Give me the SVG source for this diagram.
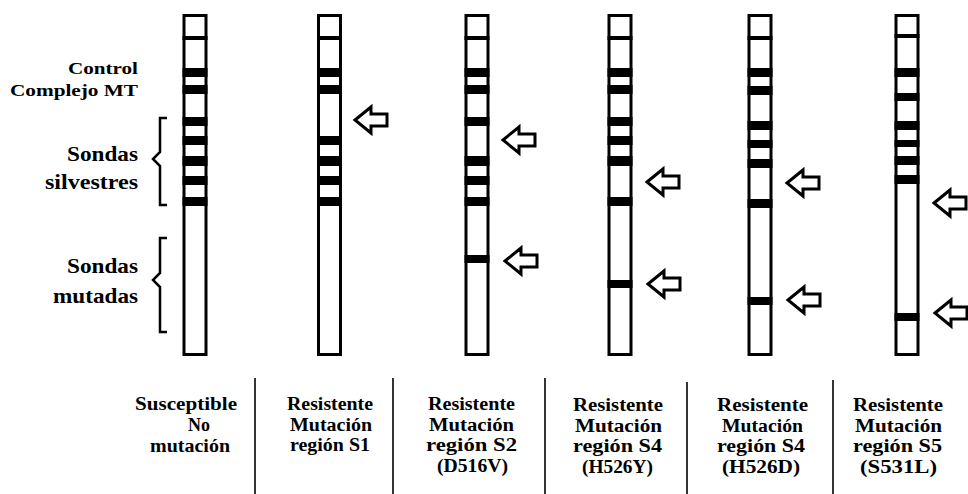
<svg xmlns="http://www.w3.org/2000/svg" xmlns:xlink="http://www.w3.org/1999/xlink" width="968" height="494" viewBox="0 0 968 494">
  <style>
    .body { fill: #fff; stroke: #000; stroke-width: 3; }
    .band { fill: #000; }
    .arrow { fill: #fff; stroke: #000; stroke-width: 3; stroke-linejoin: miter; }
    .brace { fill: none; stroke: #000; stroke-width: 2.5; stroke-linejoin: miter; }
    .sep { stroke: #000; stroke-width: 1.6; }
    .lbl { font-family: 'Liberation Serif', 'DejaVu Serif', serif; font-weight: bold; fill: #000; }
    .small { font-size: 16px; }
    .big { font-size: 22px; }
    .cap { font-size: 18px; }
  </style>
  <defs>
    <!-- hollow block arrow pointing left, tip at origin -->
    <path id="arrow" class="arrow" d="M0,0 L16,-13 L16,-6 L32,-6 L32,6 L16,6 L16,13 Z"/>
  </defs>
  <rect width="968" height="494" fill="#fff"/>

  <!-- left-hand legend -->
  <g id="legend" class="lbl">
    <text class="small" x="68" y="74" textLength="70" lengthAdjust="spacingAndGlyphs">Control</text>
    <text class="small" x="10" y="96" textLength="128" lengthAdjust="spacingAndGlyphs">Complejo MT</text>
    <text class="big" x="67" y="161" textLength="71" lengthAdjust="spacingAndGlyphs">Sondas</text>
    <text class="big" x="45" y="189" textLength="93" lengthAdjust="spacingAndGlyphs">silvestres</text>
    <text class="big" x="67" y="273" textLength="71" lengthAdjust="spacingAndGlyphs">Sondas</text>
    <text class="big" x="53" y="303" textLength="85" lengthAdjust="spacingAndGlyphs">mutadas</text>
  </g>
  <g id="brackets">
    <path class="brace" d="M167,118 L160,118 L160,152 L153,159 L160,166 L160,205 L167,205"/>
    <path class="brace" d="M167,238 L160,238 L160,273 L153,280 L160,287 L160,332 L167,332"/>
  </g>

  <!-- strip 1: susceptible, all wild-type bands -->
  <g id="strip-susceptible" transform="translate(182.5,0)">
    <rect class="body" x="1.5" y="15.5" width="22" height="339"/>
    <rect class="band" x="0" y="36" width="25" height="4"/>
    <rect class="band" x="0" y="68" width="25" height="9"/>
    <rect class="band" x="0" y="85" width="25" height="9"/>
    <rect class="band" x="0" y="117" width="25" height="9"/>
    <rect class="band" x="0" y="136" width="25" height="9"/>
    <rect class="band" x="0" y="156" width="25" height="10"/>
    <rect class="band" x="0" y="176" width="25" height="9"/>
    <rect class="band" x="0" y="197" width="25" height="9"/>
  </g>

  <!-- strip 2: S1 mutation -->
  <g id="strip-s1" transform="translate(317,0)">
    <rect class="body" x="1.5" y="15.5" width="22" height="339"/>
    <rect class="band" x="0" y="36" width="25" height="4"/>
    <rect class="band" x="0" y="68" width="25" height="9"/>
    <rect class="band" x="0" y="85" width="25" height="9"/>
    <rect class="band" x="0" y="136" width="25" height="9"/>
    <rect class="band" x="0" y="156" width="25" height="10"/>
    <rect class="band" x="0" y="176" width="25" height="9"/>
    <rect class="band" x="0" y="197" width="25" height="9"/>
  </g>

  <!-- strip 3: S2 mutation (D516V) -->
  <g id="strip-s2" transform="translate(464.5,0)">
    <rect class="body" x="1.5" y="15.5" width="22" height="339"/>
    <rect class="band" x="0" y="36" width="25" height="4"/>
    <rect class="band" x="0" y="68" width="25" height="9"/>
    <rect class="band" x="0" y="85" width="25" height="9"/>
    <rect class="band" x="0" y="117" width="25" height="9"/>
    <rect class="band" x="0" y="156" width="25" height="10"/>
    <rect class="band" x="0" y="176" width="25" height="9"/>
    <rect class="band" x="0" y="197" width="25" height="9"/>
    <rect class="band" x="0" y="255" width="25" height="8"/>
  </g>

  <!-- strip 4: S4 mutation (H526Y) -->
  <g id="strip-s4-y" transform="translate(607.5,0)">
    <rect class="body" x="1.5" y="15.5" width="22" height="339"/>
    <rect class="band" x="0" y="36" width="25" height="4"/>
    <rect class="band" x="0" y="68" width="25" height="9"/>
    <rect class="band" x="0" y="85" width="25" height="9"/>
    <rect class="band" x="0" y="117" width="25" height="9"/>
    <rect class="band" x="0" y="136" width="25" height="9"/>
    <rect class="band" x="0" y="156" width="25" height="10"/>
    <rect class="band" x="0" y="197" width="25" height="9"/>
    <rect class="band" x="0" y="280" width="25" height="8"/>
  </g>

  <!-- strip 5: S4 mutation (H526D) -->
  <g id="strip-s4-d" transform="translate(747.5,0)">
    <rect class="body" x="1.5" y="15.5" width="22" height="339"/>
    <rect class="band" x="0" y="36" width="25" height="4"/>
    <rect class="band" x="0" y="68" width="25" height="9"/>
    <rect class="band" x="0" y="86" width="25" height="9"/>
    <rect class="band" x="0" y="121" width="25" height="9"/>
    <rect class="band" x="0" y="140" width="25" height="8"/>
    <rect class="band" x="0" y="159" width="25" height="9"/>
    <rect class="band" x="0" y="199" width="25" height="9"/>
    <rect class="band" x="0" y="297" width="25" height="8"/>
  </g>

  <!-- strip 6: S5 mutation (S531L) -->
  <g id="strip-s5" transform="translate(894.5,0)">
    <rect class="body" x="1.5" y="15.5" width="22" height="339"/>
    <rect class="band" x="0" y="34" width="25" height="4"/>
    <rect class="band" x="0" y="68" width="25" height="9"/>
    <rect class="band" x="0" y="93" width="25" height="8"/>
    <rect class="band" x="0" y="121" width="25" height="9"/>
    <rect class="band" x="0" y="140" width="25" height="7"/>
    <rect class="band" x="0" y="156" width="25" height="9"/>
    <rect class="band" x="0" y="175" width="25" height="9"/>
    <rect class="band" x="0" y="313" width="25" height="8"/>
  </g>

  <!-- arrows marking missing / mutated bands -->
  <g id="arrows">
    <use xlink:href="#arrow" x="355" y="120"/>
    <use xlink:href="#arrow" x="503" y="140"/>
    <use xlink:href="#arrow" x="505" y="261"/>
    <use xlink:href="#arrow" x="647" y="182"/>
    <use xlink:href="#arrow" x="648" y="284"/>
    <use xlink:href="#arrow" x="787" y="183"/>
    <use xlink:href="#arrow" x="788" y="300"/>
    <use xlink:href="#arrow" x="934" y="203"/>
    <use xlink:href="#arrow" x="935" y="313"/>
  </g>

  <!-- column separators -->
  <g id="separators">
    <line class="sep" x1="255" y1="378" x2="255" y2="494"/>
    <line class="sep" x1="393" y1="378" x2="393" y2="494"/>
    <line class="sep" x1="545" y1="378" x2="545" y2="494"/>
    <line class="sep" x1="687" y1="382" x2="687" y2="494"/>
    <line class="sep" x1="833" y1="380" x2="833" y2="494"/>
  </g>

  <!-- captions -->
  <g id="captions" class="lbl cap">
    <text x="135" y="410" textLength="102" lengthAdjust="spacingAndGlyphs">Susceptible</text>
    <text x="188" y="431" textLength="22" lengthAdjust="spacingAndGlyphs">No</text>
    <text x="150" y="452" textLength="80" lengthAdjust="spacingAndGlyphs">mutación</text>

    <text x="287" y="410" textLength="86" lengthAdjust="spacingAndGlyphs">Resistente</text>
    <text x="290" y="431" textLength="82" lengthAdjust="spacingAndGlyphs">Mutación</text>
    <text x="290" y="451" textLength="80" lengthAdjust="spacingAndGlyphs">región S1</text>

    <text x="428" y="410" textLength="87" lengthAdjust="spacingAndGlyphs">Resistente</text>
    <text x="429" y="431" textLength="85" lengthAdjust="spacingAndGlyphs">Mutación</text>
    <text x="426" y="451" textLength="91" lengthAdjust="spacingAndGlyphs">región S2</text>
    <text x="437" y="472" textLength="71" lengthAdjust="spacingAndGlyphs">(D516V)</text>

    <text x="573" y="411" textLength="90" lengthAdjust="spacingAndGlyphs">Resistente</text>
    <text x="575" y="432" textLength="87" lengthAdjust="spacingAndGlyphs">Mutación</text>
    <text x="573" y="452" textLength="89" lengthAdjust="spacingAndGlyphs">región S4</text>
    <text x="582" y="473" textLength="71" lengthAdjust="spacingAndGlyphs">(H526Y)</text>

    <text x="717" y="411" textLength="91" lengthAdjust="spacingAndGlyphs">Resistente</text>
    <text x="722" y="432" textLength="81" lengthAdjust="spacingAndGlyphs">Mutación</text>
    <text x="717" y="452" textLength="88" lengthAdjust="spacingAndGlyphs">región S4</text>
    <text x="722" y="473" textLength="78" lengthAdjust="spacingAndGlyphs">(H526D)</text>

    <text x="853" y="411" textLength="90" lengthAdjust="spacingAndGlyphs">Resistente</text>
    <text x="855" y="432" textLength="87" lengthAdjust="spacingAndGlyphs">Mutación</text>
    <text x="853" y="452" textLength="89" lengthAdjust="spacingAndGlyphs">región S5</text>
    <text x="860" y="473" textLength="77" lengthAdjust="spacingAndGlyphs">(S531L)</text>
  </g>
</svg>
